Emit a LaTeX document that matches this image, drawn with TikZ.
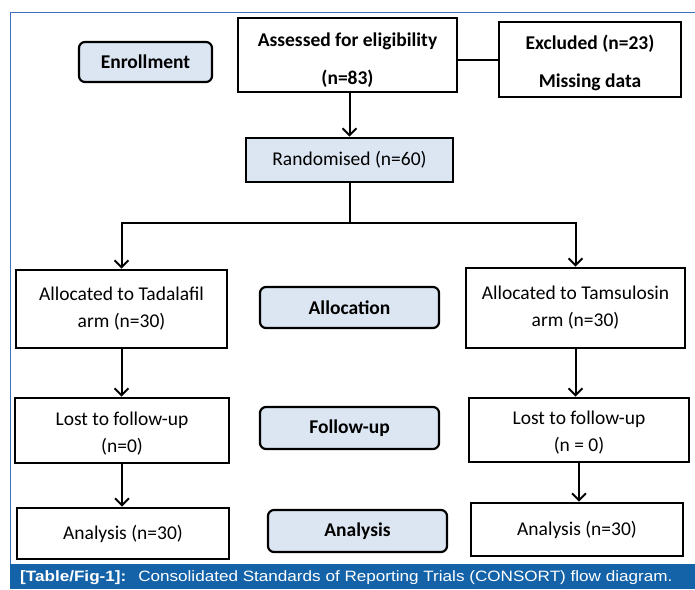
\documentclass[tikz,border=0pt]{standalone}
\usepackage{fontspec}
\setmainfont{Carlito}
\newfontfamily\capfont[FakeStretch=1.14]{Liberation Sans}
\usetikzlibrary{arrows.meta,calc}
\definecolor{boxblue}{HTML}{DCE6F2}
\definecolor{framblue}{HTML}{3F6FC0}
\definecolor{barblue}{HTML}{1463A8}
\newcommand{\dropstrut}[1]{\rule{0pt}{#1}}
\tikzset{
  plainbox/.style={draw=black,line width=2.6pt,fill=white,align=center,inner sep=0pt,font=\fontsize{19.5}{27}\selectfont},
  bluebox/.style={plainbox,fill=boxblue},
  stagebox/.style={draw=black,line width=2.2pt,fill=boxblue,rounded corners=6pt,align=center,inner sep=0pt,font=\bfseries\fontsize{19.5}{23}\selectfont},
  arr/.style={line width=2pt,-{Straight Barb[length=7pt,width=14pt,line width=2pt]}},
  conn/.style={line width=2pt}
}
\begin{document}
\begin{tikzpicture}[x=1pt,y=-1pt]
\useasboundingbox (0,0) rectangle (695,589);
\fill[white] (0,0) rectangle (695,589);
% frame and caption bar
\draw[framblue,line width=1pt] (10,564) -- (10,12) -- (695,12);
\fill[barblue] (10,564) rectangle (695,589);
\node[anchor=west,text=white,inner sep=0pt,font=\capfont\fontsize{15}{16}\selectfont] (cap) at (20,577.5)
  {\textbf{[Table/Fig-1]:}\hspace{12pt}Consolidated Standards of Reporting Trials (CONSORT) flow diagram.};
% stage labels
\node[stagebox,minimum width=133pt,minimum height=40pt] (enr) at (145.5,62) {Enrollment};
\node[stagebox,minimum width=179pt,minimum height=41pt] (alloc) at (349.5,307.5) {Allocation};
\node[stagebox,minimum width=179pt,minimum height=42pt] (fu) at (349.5,428) {Follow-up};
\node[stagebox,minimum width=179pt,minimum height=42pt] (anal) at (357.5,531) {Analysis};
% flow boxes
\node[plainbox,font=\bfseries\fontsize{19.5}{38}\selectfont,minimum width=219pt,minimum height=74pt] (assess) at (347.5,55) {\dropstrut{23pt}Assessed for eligibility\\(n=83)};
\node[plainbox,font=\bfseries\fontsize{19.5}{38}\selectfont,minimum width=182pt,minimum height=75pt] (excl) at (590,59.5) {\dropstrut{21pt}Excluded (n=23)\\Missing data};
\node[bluebox,minimum width=207pt,minimum height=44pt] (rand) at (349.5,160) {Randomised (n=60)};
\node[plainbox,minimum width=211pt,minimum height=78pt] (tad) at (121.5,309) {Allocated to Tadalafil\\arm (n=30)};
\node[plainbox,minimum width=219pt,minimum height=80pt] (tam) at (575.5,308) {Allocated to Tamsulosin\\arm (n=30)};
\node[plainbox,minimum width=214pt,minimum height=65pt] (lost1) at (122,430.5) {\dropstrut{19.5pt}Lost to follow-up\\(n=0)};
\node[plainbox,minimum width=220pt,minimum height=64pt] (lost2) at (579,430) {\dropstrut{19.5pt}Lost to follow-up\\(n = 0)};
\node[plainbox,minimum width=212pt,minimum height=51pt] (ana1) at (123,533.5) {Analysis (n=30)};
\node[plainbox,minimum width=212pt,minimum height=53pt] (ana2) at (577,529.5) {Analysis (n=30)};
% connectors
\draw[conn] (assess.east |- excl.west) -- (excl.west);
\draw[arr] (rand.north |- assess.south) -- (rand.north);
\coordinate (split) at ($(rand.south)+(0,40)$);
\draw[conn] (rand.south) -- (split);
\draw[arr] (split) -| (tad.north);
\draw[arr] (split) -| (tam.north);
\draw[arr] (tad.south) -- (tad.south |- lost1.north);
\draw[arr] (tam.south) -- (tam.south |- lost2.north);
\draw[arr] (lost1.south) -- (lost1.south |- ana1.north);
\draw[arr] (lost2.south) -- (lost2.south |- ana2.north);
\end{tikzpicture}
\end{document}
